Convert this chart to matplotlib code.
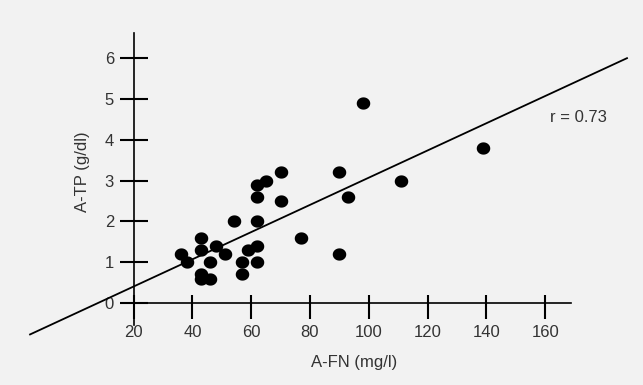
import numpy as np
import matplotlib
matplotlib.use("Agg")
import matplotlib.pyplot as plt
from matplotlib.path import Path

# Data
afn = [36, 38, 43, 43, 48, 51, 46, 43, 43, 46, 54, 57, 57, 59, 62, 62, 62, 62, 62, 65,
       70, 70, 77, 90, 90, 93, 98, 111, 139]
atp = [1.2, 1.0, 1.6, 1.3, 1.4, 1.2, 1.0, 0.7, 0.6, 0.6, 2.0, 1.0, 0.7, 1.3, 1.4, 1.0,
       2.0, 2.6, 2.9, 3.0, 3.2, 2.5, 1.6, 3.2, 1.2, 2.6, 4.9, 3.0, 3.8]
fit_slope = 0.03335
fit_intercept = -0.263
fit_x = [-15.5, 188.1]
r_text = "r = 0.73"
x_ticks = [20, 40, 60, 80, 100, 120, 140, 160]
y_ticks = [0, 1, 2, 3, 4, 5, 6]
x_label = "A-FN (mg/l)"
y_label = "A-TP (g/dl)"

W, H = 643, 385
bg = "#f2f2f2"
txt = "#333333"
plt.rcParams['font.family'] = ['Liberation Sans', 'DejaVu Sans']
PT = 72 / 100  # points per pixel

fig = plt.figure(figsize=(W / 100, H / 100), dpi=100, facecolor=bg)
ax = fig.add_axes([0, 0, 1, 1])
ax.set_facecolor(bg)

# pixel -> data mapping
x0px, xsc = 133.6, 2.94   # px of x=20, px per unit
y0px, ysc = 303.0, 40.8   # px of y=0, px per unit
ax.set_xlim(20 - x0px / xsc, 20 + (W - x0px) / xsc)
ax.set_ylim(-(H - y0px) / ysc, y0px / ysc)

# ellipse marker
t = np.linspace(0, 2 * np.pi, 60)
ell = Path(np.column_stack([1.1 * np.cos(t), np.sin(t)]), closed=True)
ax.scatter(afn, atp, marker=ell, s=(13.5 * PT) ** 2, color="black", zorder=3,
           linewidths=0)

fx = np.array(fit_x)
ax.plot(fx, fit_intercept + fit_slope * fx, color="black", lw=1.3, zorder=2,
        solid_capstyle="butt")

# axes
for s in ["top", "right"]:
    ax.spines[s].set_visible(False)
ax.spines["left"].set_position(("data", 20))
ax.spines["bottom"].set_position(("data", 0))
ax.spines["left"].set_bounds(-0.54, 6.62)
ax.spines["bottom"].set_bounds(15.7, 168.7)
for s in ["left", "bottom"]:
    ax.spines[s].set_linewidth(1.2)
    ax.spines[s].set_color("black")

ax.set_xticks(x_ticks)
ax.set_yticks(y_ticks)
ax.xaxis.remove_overlapping_locs = False
ax.set_xticks(x_ticks, minor=True)
ax.tick_params(axis="x", which="major", direction="out", length=16 * PT, width=1.5,
               color="black", labelsize=12, labelcolor=txt, pad=4)
ax.tick_params(axis="x", which="minor", direction="in", length=8 * PT, width=1.5,
               color="black", labelbottom=False)
ax.tick_params(axis="y", direction="inout", length=28 * PT, width=1.5, color="black",
               labelsize=12, labelcolor=txt, pad=4)

def px_text(xp, yp, s, **kw):
    ax.text(xp / W, 1 - yp / H, s, transform=fig.transFigure, ha="center",
            va="center", fontsize=12, color=txt, **kw)

px_text(354, 362, x_label)
px_text(82, 172, y_label, rotation=90)
px_text(578, 118, r_text)

fig.savefig("out.png", dpi=100, facecolor=bg)
